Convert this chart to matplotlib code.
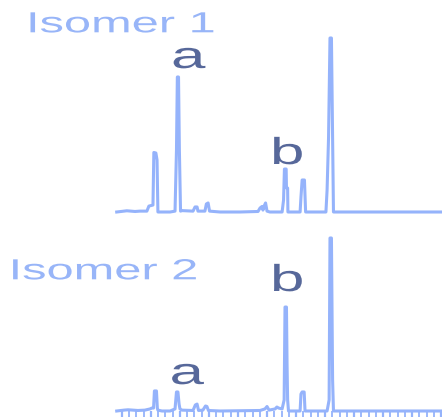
import matplotlib
matplotlib.use("Agg")
import matplotlib.pyplot as plt
from matplotlib.patheffects import AbstractPathEffect
from matplotlib.transforms import Affine2D
from matplotlib.ticker import MultipleLocator

# Retention time (min) and relative intensity (%) of the trace vertices
iso1_time = [3.82, 4.07, 4.17, 4.31, 4.45, 4.62, 4.86, 4.93, 5.00, 5.07, 5.10, 5.17,
             5.21, 5.24, 5.66, 5.83, 5.88, 5.91, 5.95, 5.98, 6.02, 6.07, 6.45, 6.52,
             6.59, 6.62, 6.86, 6.91, 6.97, 7.02, 7.38, 8.07, 8.69, 8.76, 8.83, 8.86,
             8.90, 8.95, 9.00, 9.10, 9.52, 9.57, 9.60, 9.66, 9.67, 9.71, 9.72, 10.14,
             10.17, 10.21, 10.29, 10.33, 11.03, 11.07, 11.12, 11.17, 11.22, 11.26,
             11.29, 15.03]
iso1_int = [0.0, 0.5, 0.7, 0.5, 0.3, 0.5, 0.5, 3.4, 3.7, 4.0, 34.2, 33.9,
            29.9, 0.0, 0.0, 0.5, 35.6, 77.6, 77.6, 35.6, 0.5, 0.8, 0.5, 2.9,
            2.9, 0.5, 0.5, 4.6, 5.2, 0.5, 0.0, 0.0, 0.3, 2.3, 3.2, 1.1,
            3.4, 5.2, 0.5, 0.0, 0.0, 6.9, 24.7, 24.7, 13.8, 13.8, 0.0, 0.0,
            8.6, 18.4, 18.4, 0.0, 0.0, 12.6, 42.5, 100.0, 100.0, 42.5,
            0.0, 0.0]

iso2_time = [3.82, 4.07, 4.21, 4.38, 4.55, 4.79, 4.97, 5.03, 5.09, 5.12, 5.19, 5.22,
             5.24, 5.38, 5.66, 5.83, 5.88, 5.93, 5.97, 6.00, 6.07, 6.45, 6.53, 6.59,
             6.64, 6.79, 6.88, 6.93, 6.98, 7.38, 8.76, 8.93, 9.00, 9.07, 9.28, 9.34,
             9.40, 9.52, 9.59, 9.62, 9.67, 9.69, 9.71, 9.74, 10.14, 10.17, 10.21,
             10.28, 10.31, 11.07, 11.14, 11.17, 11.22, 11.26, 11.29, 15.03]
iso2_int = [0.0, 0.5, 0.7, 0.5, 0.3, 0.5, 1.2, 1.7, 1.7, 11.6, 11.6, 1.7,
            0.5, 0.0, 0.0, 1.2, 11.0, 11.0, 4.0, 1.2, 0.5, 0.3, 3.5, 4.0,
            0.3, 0.5, 2.9, 2.6, 0.3, 0.0, 0.3, 1.2, 2.6, 0.5, 1.2, 2.3,
            1.7, 1.2, 6.4, 60.1, 60.1, 27.7, 6.4, 0.0, 0.0, 9.8, 11.0,
            11.0, 0.0, 0.0, 6.4, 100.0, 100.0, 17.9, 0.0, 0.0]

panel_titles = ["Isomer 1", "Isomer 2"]
peak_labels = ["a", "b"]

W, H = 442, 417
LINE = "#95b3fb"
TITLE = "#98b5f8"
LABEL = "#57689a"


class HStretch(AbstractPathEffect):
    """Widen glyph outlines horizontally about the text origin."""

    def __init__(self, sx):
        super().__init__()
        self.sx = sx

    def draw_path(self, renderer, gc, tpath, affine, rgbFace=None):
        renderer.draw_path(gc, tpath, Affine2D().scale(self.sx, 1.0) + affine, rgbFace)


def px_text(fig, x, y, s, size, color, sx):
    fig.text(x / W, 1 - y / H, s, fontsize=size, color=color, family="Liberation Sans",
             ha="left", va="baseline", path_effects=[HStretch(sx)])


fig = plt.figure(figsize=(W / 100, H / 100), dpi=100)

left = 116.7 / W
top_ax = fig.add_axes([left, (H - 212) / H, 1 - left, 174 / H])
bot_ax = fig.add_axes([left, (H - 411) / H, 1 - left, 173 / H])

for ax, t, y in ((top_ax, iso1_time, iso1_int), (bot_ax, iso2_time, iso2_int)):
    ax.plot(t, y, color=LINE, lw=2.2, solid_joinstyle="round", clip_on=False)
    ax.set_xlim(iso1_time[0], iso1_time[-1])
    ax.set_ylim(0, 100)
    ax.patch.set_alpha(0)
    for side in ("top", "right", "left", "bottom"):
        ax.spines[side].set_visible(False)
    ax.set_yticks([])

top_ax.set_xticks([])

bot_ax.xaxis.set_major_locator(MultipleLocator(1))
bot_ax.xaxis.set_minor_locator(MultipleLocator(0.25))
bot_ax.tick_params(axis="x", which="major", direction="out", length=7, width=1.6,
                   color=LINE, labelbottom=False)
bot_ax.tick_params(axis="x", which="minor", direction="out", length=5, width=1.3,
                   color=LINE)

# panel titles
px_text(fig, 26.0, 32.3, panel_titles[0], 20.9, TITLE, 1.68)
px_text(fig, 8.6, 279.3, panel_titles[1], 20.9, TITLE, 1.68)

# peak letters
px_text(fig, 171.0, 68.0, peak_labels[0], 27, LABEL, 1.65)
px_text(fig, 270.0, 164.0, peak_labels[1], 27, LABEL, 1.65)
px_text(fig, 270.0, 291.0, peak_labels[1], 27, LABEL, 1.65)
px_text(fig, 169.5, 384.0, peak_labels[0], 27, LABEL, 1.65)

fig.savefig("out.png", dpi=100)
